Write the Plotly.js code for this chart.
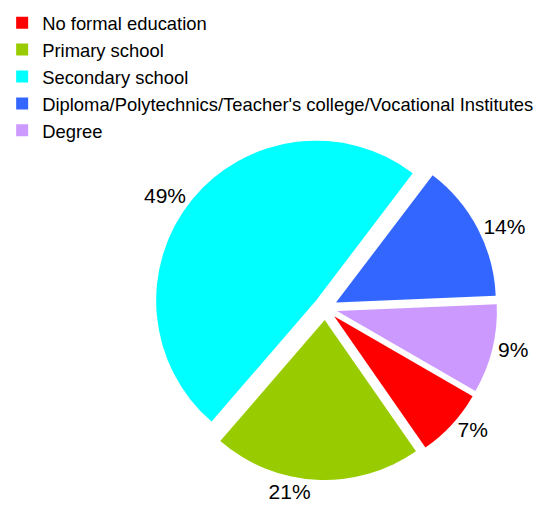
<!DOCTYPE html>
<html>
<head>
<meta charset="utf-8">
<script src="https://cdn.plot.ly/plotly-3.0.1.min.js"></script>
<style>
  html, body { margin: 0; padding: 0; background: #ffffff; }
  #chart { width: 540px; height: 522px; }
</style>
</head>
<body>
<div id="chart"></div>
<script>
const categories = [
  "No formal education",
  "Primary school",
  "Secondary school",
  "Diploma/Polytechnics/Teacher's college/Vocational Institutes",
  "Degree"
];
const shares = [7, 21, 49, 14, 9];
const sliceColors = ["#FF0000", "#99CC00", "#00FFFF", "#3366FF", "#CC99FF"];

const fontFamily = "'Liberation Sans', Arial, sans-serif";

const trace = {
  type: "pie",
  labels: categories,
  values: shares,
  sort: false,
  direction: "clockwise",
  rotation: 120,
  pull: [0.075, 0.075, 0.075, 0.075, 0.075],
  marker: { colors: sliceColors, line: { width: 0 } },
  textinfo: "percent",
  textposition: "outside",
  outsidetextfont: { family: fontFamily, size: 21, color: "#000000" },
  hoverinfo: "label+percent",
  domain: { x: [0.284, 0.921], y: [0.0805, 0.739] }
};

const layout = {
  width: 540,
  height: 522,
  margin: { l: 0, r: 0, t: 0, b: 0 },
  paper_bgcolor: "#ffffff",
  showlegend: true,
  legend: {
    x: 0.004, y: 0.992, xanchor: "left", yanchor: "top",
    font: { family: fontFamily, size: 18.4, color: "#000000" },
    bgcolor: "rgba(0,0,0,0)",
    traceorder: "normal"
  },
  font: { family: fontFamily }
};

Plotly.newPlot("chart", [trace], layout, { displayModeBar: false, staticPlot: true });
</script>
</body>
</html>
